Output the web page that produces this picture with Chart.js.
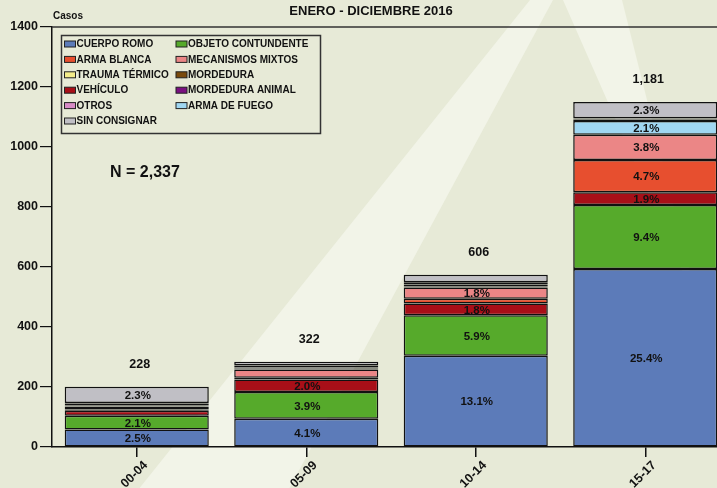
<!DOCTYPE html>
<html lang="es">
<head>
<meta charset="utf-8">
<title>Casos por grupo de edad - Enero a Diciembre 2016</title>
<script src="https://cdn.jsdelivr.net/npm/chart.js@4.4.1/dist/chart.umd.min.js"></script>
<style>
  html, body { margin: 0; padding: 0; overflow: hidden; background: #e7ead7; }
  #wrap { width: 730px; height: 488px; }
</style>
</head>
<body>
<div id="wrap"><canvas id="chart" width="730" height="488"></canvas></div>
<script>
/* Stacked bars of cases by age group, one dataset per mechanism.
 * Values; the percentage strings are the
 * printed labels (share of N = 2,337), not computed here.
 */
var categories = ["00-04", "05-09", "10-14", "15-17"];
var totalLabels = ["228", "322", "606", "1,181"];
var yTicks = [0, 200, 400, 600, 800, 1000, 1200, 1400];

// stacking order, bottom to top
var cuerpoRomo        = [58, 94, 304, 593];
var objetoContundente = [46, 89, 135, 214];
var vehiculo          = [17, 42, 39, 42];
var armaBlanca        = [4, 6, 16, 108];
var mecanismosMixtos  = [9, 27, 38, 84];
var armaDeFuego       = [1, 4, 3, 46];
var otros             = [3, 3, 5, 3];
var mordeduraAnimal   = [2, 2, 2, 2];
var mordedura         = [5, 3, 5, 2];
var traumaTermico     = [2, 2, 2, 2];
var sinConsignar      = [54, 12, 25, 54];

var pctCuerpoRomo   = ["2.5%", "4.1%", "13.1%", "25.4%"];
var pctObjeto       = ["2.1%", "3.9%", "5.9%", "9.4%"];
var pctVehiculo     = [null, "2.0%", "1.8%", "1.9%"];
var pctArmaBlanca   = [null, null, null, "4.7%"];
var pctMixtos       = [null, null, "1.8%", "3.8%"];
var pctArmaFuego    = [null, null, null, "2.1%"];
var pctSinConsignar = ["2.3%", null, null, "2.3%"];

var legendOrder = ["CUERPO ROMO", "OBJETO CONTUNDENTE", "ARMA BLANCA", "MECANISMOS MIXTOS",
  "TRAUMA TÉRMICO", "MORDEDURA", "VEHÍCULO", "MORDEDURA ANIMAL", "OTROS", "ARMA DE FUEGO",
  "SIN CONSIGNAR"];

(function () {
  "use strict";

  var INK = "#111";
  var BOLD = "Liberation Sans, Arial, sans-serif";

  function ds(label, data, color, pct) {
    return { label: label, data: data, backgroundColor: color, borderColor: INK,
             borderWidth: 1.5, borderSkipped: false, pct: pct || null };
  }

  var datasets = [
    ds("CUERPO ROMO", cuerpoRomo, "#5c7bb9", pctCuerpoRomo),
    ds("OBJETO CONTUNDENTE", objetoContundente, "#56aa2b", pctObjeto),
    ds("VEHÍCULO", vehiculo, "#a80f18", pctVehiculo),
    ds("ARMA BLANCA", armaBlanca, "#e74f2f", pctArmaBlanca),
    ds("MECANISMOS MIXTOS", mecanismosMixtos, "#eb8686", pctMixtos),
    ds("ARMA DE FUEGO", armaDeFuego, "#a0d7f2", pctArmaFuego),
    ds("OTROS", otros, "#d78cc6"),
    ds("MORDEDURA ANIMAL", mordeduraAnimal, "#7a1080"),
    ds("MORDEDURA", mordedura, "#7a4a0c"),
    ds("TRAUMA TÉRMICO", traumaTermico, "#f3ec8a"),
    ds("SIN CONSIGNAR", sinConsignar, "#c0bfc5", pctSinConsignar)
  ];

  // page background with the faint watermark bands
  var backdrop = {
    id: "backdrop",
    beforeDraw: function (chart) {
      var c = chart.ctx, w = chart.width, h = chart.height;
      c.save();
      c.fillStyle = "#e7ead7";
      c.fillRect(0, 0, w, h);
      c.fillStyle = "#f2f4e8";
      c.beginPath();
      c.moveTo(530, 0); c.lineTo(553, 0);
      c.lineTo(553 - 0.54 * h, h); c.lineTo(530 - 0.8 * h, h);
      c.closePath(); c.fill();
      c.beginPath();
      c.moveTo(563, 0); c.lineTo(622, 0);
      c.lineTo(622 + 0.25 * h, h); c.lineTo(563 + 0.44 * h, h);
      c.closePath(); c.fill();
      c.restore();
    }
  };

  var annotations = {
    id: "annotations",
    afterDatasetsDraw: function (chart) {
      var c = chart.ctx, area = chart.chartArea;
      c.save();
      c.fillStyle = INK;
      c.textAlign = "center";
      c.textBaseline = "middle";

      // segment percentages
      c.font = "bold 11.5px " + BOLD;
      chart.data.datasets.forEach(function (d, i) {
        if (!d.pct) return;
        var meta = chart.getDatasetMeta(i);
        meta.data.forEach(function (bar, j) {
          if (!d.pct[j]) return;
          var p = bar.getProps(["x", "y", "base"], true);
          c.fillText(d.pct[j], p.x + 1, (p.y + p.base) / 2 + 1);
        });
      });

      // totals above each stack
      var last = chart.getDatasetMeta(chart.data.datasets.length - 1);
      c.font = "bold 12.5px " + BOLD;
      last.data.forEach(function (bar, j) {
        var p = bar.getProps(["x", "y"], true);
        c.fillText(totalLabels[j], p.x + 3, p.y - 22);
      });

      c.font = "bold 16px " + BOLD;
      c.textAlign = "left";
      c.fillText("N = 2,337", 110, 173);

      c.font = "bold 13px " + BOLD;
      c.textAlign = "center";
      c.fillText("ENERO - DICIEMBRE 2016", 371, 11);

      c.font = "bold 10px " + BOLD;
      c.textAlign = "left";
      c.fillText("Casos", 53, 16);

      // frame line along the top of the plot
      c.strokeStyle = "#333";
      c.lineWidth = 1.5;
      c.beginPath();
      c.moveTo(area.left, area.top);
      c.lineTo(chart.width, area.top);
      c.stroke();

      drawLegend(chart, c);
      c.restore();
    }
  };

  function drawLegend(chart, c) {
    var byLabel = {};
    chart.data.datasets.forEach(function (d) { byLabel[d.label] = d; });
    c.strokeStyle = "#333";
    c.lineWidth = 1.5;
    c.strokeRect(61.5, 35.5, 259, 98);
    c.font = "bold 10px " + BOLD;
    c.textAlign = "left";
    c.textBaseline = "middle";
    for (var i = 0; i < legendOrder.length; i++) {
      var d = byLabel[legendOrder[i]];
      var col = i % 2, row = Math.floor(i / 2);
      var x = col ? 176 : 64.5;
      var y = 44 + row * 15.4;
      c.fillStyle = d.backgroundColor;
      c.fillRect(x, y - 3, 11, 6);
      c.lineWidth = 1;
      c.strokeStyle = "#222";
      c.strokeRect(x, y - 3, 11, 6);
      c.fillStyle = INK;
      c.fillText(legendOrder[i], x + 12, y + 0.5);
    }
  }

  new Chart(document.getElementById("chart"), {
    type: "bar",
    data: { labels: categories, datasets: datasets },
    options: {
      responsive: false,
      animation: false,
      layout: { padding: { top: 27, left: 0, right: 0, bottom: 0 } },
      datasets: { bar: { barPercentage: 0.85, categoryPercentage: 1 } },
      plugins: { legend: { display: false }, tooltip: { enabled: false }, title: { display: false } },
      scales: {
        x: {
          stacked: true,
          grid: { offset: false, drawOnChartArea: false, drawTicks: true, tickLength: 10,
                  color: INK, lineWidth: 1.5 },
          border: { display: true, color: INK, width: 1.5 },
          ticks: { color: INK, font: { family: BOLD, size: 12.5, weight: "bold" },
                   minRotation: 45, maxRotation: 45, padding: 1, labelOffset: 9 },
          afterFit: function (s) { s.height = 41; }
        },
        y: {
          stacked: true,
          min: yTicks[0],
          max: yTicks[yTicks.length - 1],
          afterBuildTicks: function (s) {
            s.ticks = yTicks.map(function (v) { return { value: v }; });
          },
          grid: { drawOnChartArea: false, drawTicks: true, tickLength: 12, color: INK, lineWidth: 1.2 },
          border: { display: true, color: INK, width: 1.5 },
          ticks: { color: INK, padding: 2, font: { family: BOLD, size: 12.5, weight: "bold" },
                   callback: function (v) { return String(v); } },
          afterFit: function (s) { s.width = 52; }
        }
      }
    },
    plugins: [backdrop, annotations]
  });
})();
</script>
</body>
</html>
